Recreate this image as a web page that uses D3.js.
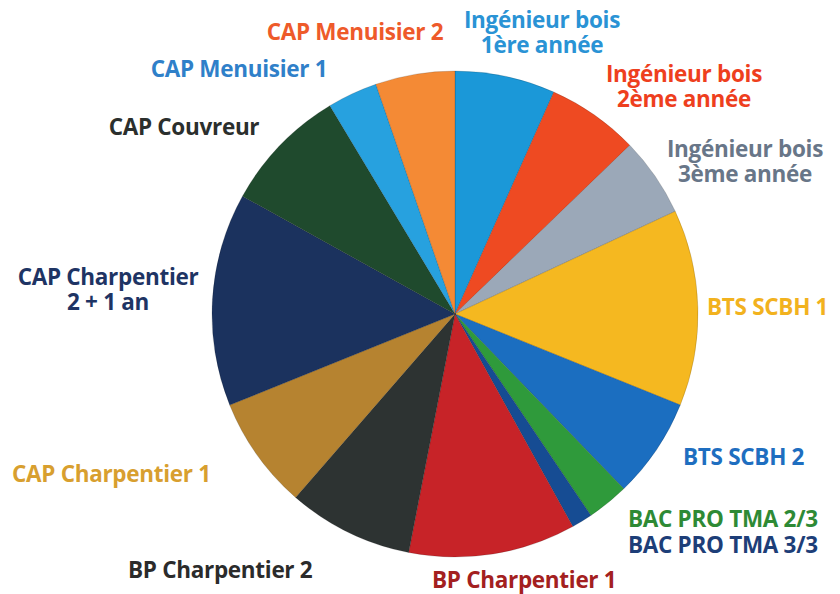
<!DOCTYPE html>
<html>
<head>
<meta charset="utf-8">
<script src="https://cdn.jsdelivr.net/npm/d3@7"></script>
<style>
  body { margin: 0; background: #fff; }
</style>
</head>
<body>
<div class="chart"></div>
<script>
var formations = ["Ingénieur bois 1ère année", "Ingénieur bois 2ème année", "Ingénieur bois 3ème année",
                  "BTS SCBH 1", "BTS SCBH 2", "BAC PRO TMA 2/3", "BAC PRO TMA 3/3",
                  "BP Charpentier 1", "BP Charpentier 2", "CAP Charpentier 1", "CAP Charpentier 2 + 1 an",
                  "CAP Couvreur", "CAP Menuisier 1", "CAP Menuisier 2"];
var effectifs = [24, 22, 19, 47, 24, 10, 5, 40, 30, 27, 51, 30, 12, 19];

// texte des étiquettes (une ligne par élément)
var etiquettes = [["Ingénieur bois", "1ère année"], ["Ingénieur bois", "2ème année"], ["Ingénieur bois", "3ème année"],
                  ["BTS SCBH 1"], ["BTS SCBH 2"], ["BAC PRO TMA 2/3"], ["BAC PRO TMA 3/3"],
                  ["BP Charpentier 1"], ["BP Charpentier 2"], ["CAP Charpentier 1"], ["CAP Charpentier", "2 + 1 an"],
                  ["CAP Couvreur"], ["CAP Menuisier 1"], ["CAP Menuisier 2"]];

var couleurs = ["#1b98d8", "#ee4a22", "#9ba8b8", "#f5b820", "#1b6ec0", "#2f9a3b", "#164c93",
                "#c72328", "#2d3332", "#b68330", "#1b325e", "#1f4a2d", "#27a1df", "#f48a35"];
var couleursTexte = ["#2a93d5", "#ee3f1e", "#687688", "#f2b21e", "#1e6ec0", "#2e8a35", "#1d3e78",
                     "#a32020", "#2b2b2b", "#d89f2f", "#1e3464", "#2b2f2d", "#2f80c9", "#ee5a2a"];

// position des étiquettes : x, y de la première ligne, ancrage
var placement = [[542, 28, "middle"], [684, 82, "middle"], [745, 157, "middle"],
                 [707, 315, "start"], [683, 465, "start"], [628, 527, "start"], [628, 553, "start"],
                 [432, 588, "start"], [128, 578, "start"], [12, 482, "start"], [108, 285, "middle"],
                 [184, 135, "middle"], [239, 77, "middle"], [355, 40, "middle"]];

var svg = d3.select(".chart")
            .append("svg")
            .attr("width", 840)
            .attr("height", 594);

var pie = d3.pie().sort(null).value(function(d) { return d; });
var arc = d3.arc().innerRadius(0).outerRadius(243);

var g = svg.append("g").attr("transform", "translate(455,314)");

g.selectAll("path")
    .data(pie(effectifs))
    .enter()
    .append("path")
    .attr("d", arc)
    .attr("fill", function(d, i) { return couleurs[i]; })
    .style("stroke", "rgba(0,0,0,0.25)")
    .style("stroke-width", 0.6);

for (var i = 0; i < formations.length; i++) {
    var t = svg.append("text")
        .attr("x", placement[i][0])
        .attr("y", placement[i][1])
        .attr("text-anchor", placement[i][2])
        .attr("font-family", "Open Sans")
        .attr("font-weight", "bold")
        .style("font-size", "22.5px")
        .style("letter-spacing", "-0.3px")
        .attr("fill", couleursTexte[i]);
    for (var j = 0; j < etiquettes[i].length; j++) {
        t.append("tspan")
            .attr("x", placement[i][0])
            .attr("dy", j == 0 ? 0 : 25)
            .text(etiquettes[i][j]);
    }
}
</script>
</body>
</html>
